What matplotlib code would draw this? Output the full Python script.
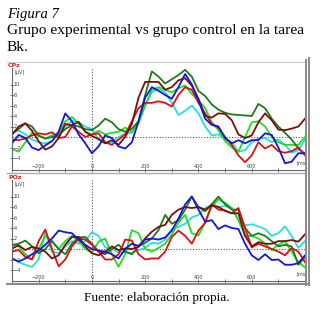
import numpy as np
import matplotlib.pyplot as plt
from matplotlib.lines import Line2D

W, H = 320, 311

# time axis (ms), one value every 25 ms
times = np.arange(-300, 801, 25)

# CPz (top panel), µV
cpz_cyan = [0.9, 1.2, 0.5, -0.5, -1.0, -1.2, -0.8, 0.5, 2.0, 3.0, 2.8, 2.0, 1.5, -0.5, -1.2,
            -1.0, 0.0, 0.6, 0.8, 2.5, 6.0, 8.5, 9.2, 8.5, 6.5, 4.2, 5.0, 6.0, 4.5, 2.0,
            0.3, 0.5, -0.5, -1.0, -2.8, -2.5, -1.0, -0.3, -0.2, -1.0, -0.5, -1.5, -3.0, -2.5, -0.5]
cpz_green = [-2.3, -2.8, -1.0, 0.8, 0.2, -0.3, 0.3, 0.8, 3.0, 3.8, 2.5, 1.0, 0.5, 1.2, 0.5,
             0.8, 1.0, 1.8, 1.0, 3.0, 6.0, 9.0, 9.5, 9.0, 8.5, 9.3, 9.8, 8.2, 7.0, 5.5,
             2.8, 1.3, -0.8, -2.0, -2.8, 0.0, 2.8, 3.0, 2.0, 0.0, -1.0, -1.5, -1.5, -1.5, 0.0]
cpz_dkgreen = [0.7, 1.5, 2.6, 2.0, 0.3, -0.3, 0.0, 0.3, 1.5, 2.3, 2.0, 1.5, 1.3, 2.2, 3.5,
               2.8, 1.5, 1.0, 1.6, 3.0, 8.0, 12.5, 11.5, 10.2, 11.0, 11.8, 12.8, 11.5, 8.8, 7.8,
               6.2, 5.2, 4.6, 4.3, 4.2, 4.1, 4.0, 6.3, 5.5, 3.5, 2.0, 0.8, -0.5, -2.2, -3.2]
cpz_red = [-0.5, -0.6, -0.3, 0.3, 0.7, 0.5, 0.9, -0.2, 0.0, 2.0, 1.0, 0.0, 0.5, 0.7, -1.0,
           -1.5, -0.5, 0.5, 3.0, 5.5, 6.5, 6.5, 6.8, 6.5, 5.8, 8.0, 9.5, 9.0, 6.5, 4.5,
           2.5, 1.8, 0.0, -1.5, -3.5, -4.8, -3.5, -1.0, -2.2, -1.5, -2.7, -3.0, -2.7, -2.0, -3.5]
cpz_dkred = [0.4, 2.0, 2.6, 1.2, -0.8, -2.4, -1.8, -0.2, 2.5, 2.2, 2.9, 1.0, 0.2, -0.4, -1.2,
             -0.6, -1.5, 0.0, 2.5, 7.5, 10.5, 10.5, 10.5, 9.0, 9.5, 10.8, 11.2, 9.8, 7.3, 4.0,
             3.7, 4.5, 4.4, 3.2, 0.5, -0.2, 0.3, 2.8, 4.5, 3.2, 1.4, 1.3, 1.6, 2.0, 3.5]
cpz_blue = [-1.2, 0.4, -0.2, -2.0, -2.5, -1.6, -0.8, 1.0, 4.5, 3.0, 0.5, -1.2, -3.1, -1.8, 0.3,
            -0.2, -1.8, -2.2, -1.0, 3.0, 7.5, 9.5, 8.8, 8.0, 7.3, 9.5, 12.0, 10.0, 7.0, 3.5,
            2.3, 2.0, -0.2, -1.2, -0.6, -1.2, -0.6, -0.6, 0.7, 0.4, -2.0, -5.0, -4.7, -3.1, -3.1]

# POz (bottom panel), µV
poz_cyan = [-1.8, -2.5, -3.0, -3.4, -2.0, 3.2, -0.5, -0.8, 0.5, 1.5, 1.0, 1.5, 3.2, 2.5, 0.3,
            0.0, -0.6, -0.6, -0.8, -0.2, 0.2, 1.2, 1.0, 1.8, 3.8, 4.2, 4.8, 6.0, 6.5, 7.8,
            8.5, 8.0, 8.2, 7.8, 5.5, 4.5, 4.7, 4.3, 3.8, 2.5, 3.0, 4.3, 2.5, 0.2, 1.5]
poz_green = [0.8, 0.5, -1.0, -2.0, 0.0, 2.5, 1.5, 0.0, 1.5, 2.5, 1.5, 0.0, -0.7, 1.4, 2.0,
             -1.0, -3.4, -1.0, 3.6, 3.0, 0.0, -0.5, 0.2, 1.0, 2.8, 5.0, 6.5, 3.0, 2.6, 5.0,
             8.0, 9.5, 8.8, 7.8, 5.5, 2.5, 2.5, 2.0, 1.0, -0.2, 0.8, 1.5, -0.5, -2.5, -3.5]
poz_dkgreen = [0.8, 1.0, 1.6, 0.5, -0.8, 0.0, 1.5, 0.0, -1.0, 1.0, 2.2, 2.3, 1.0, -0.5, -1.0,
               0.0, 0.8, -0.5, -1.0, 0.5, 1.2, 2.0, 3.6, 6.5, 4.8, 5.5, 7.5, 10.0, 8.0, 7.2,
               8.5, 10.0, 8.5, 7.5, 7.5, 4.0, 2.5, 3.0, 2.5, 1.5, 0.5, 0.8, 0.5, -3.0, -1.5]
poz_red = [-0.5, -0.2, -1.5, -2.0, 1.5, 3.7, 0.0, -3.3, -2.0, 0.5, 2.0, 1.8, 0.8, -0.5, -2.0,
           -2.0, -1.0, 1.8, 1.6, -1.0, -2.0, -1.8, -1.8, -0.5, 2.3, 3.5, 2.5, 1.0, 3.5, 5.0,
           8.5, 7.5, 7.3, 6.8, 7.8, 4.0, 0.3, 1.0, 0.5, 0.0, -0.5, -1.2, 0.2, -0.5, -2.5]
poz_dkred = [0.1, 0.7, -0.2, 0.4, 0.1, -0.5, -1.8, -1.2, 0.8, 2.3, 2.3, 0.5, -0.8, -1.2, -0.5,
             0.5, -0.2, 0.1, 0.0, 0.4, 2.0, 3.3, 4.2, 4.6, 6.5, 7.5, 8.0, 7.8, 8.0, 7.5,
             8.3, 8.0, 7.3, 6.8, 6.8, 2.5, 0.5, 1.3, 1.0, 1.0, 1.5, 1.5, 1.7, 1.4, 2.8]
poz_blue = [-1.8, -2.4, -1.8, -1.0, -0.3, 0.8, 2.0, 3.5, 3.2, 3.0, 1.8, 0.8, 0.0, -0.3, -0.5,
            -1.0, -1.8, 0.0, 1.0, 0.6, 1.8, 2.0, 1.8, 2.2, 3.5, 5.8, 8.5, 10.0, 7.5, 5.2,
            5.5, 3.8, 4.5, 4.0, 3.8, 1.0, -1.2, -2.1, -1.0, -2.1, -2.0, -3.0, -3.0, -2.7, -1.2]

colors = {'cyan': '#22e0e0', 'green': '#22dd22', 'dkgreen': '#1e7a1e',
          'red': '#e01010', 'dkred': '#7a0f0f', 'blue': '#1515d8'}

panels = [
    ('CPz', 68, 170, 137,
     [('cyan', cpz_cyan), ('green', cpz_green), ('dkgreen', cpz_dkgreen),
      ('red', cpz_red), ('dkred', cpz_dkred), ('blue', cpz_blue)]),
    ('POz', 180, 281, 249,
     [('cyan', poz_cyan), ('green', poz_green), ('dkgreen', poz_dkgreen),
      ('red', poz_red), ('dkred', poz_dkred), ('blue', poz_blue)]),
]

plt.rcParams['font.family'] = ['Liberation Serif', 'DejaVu Serif']
fig = plt.figure(figsize=(W / 100, H / 100), dpi=100)

# captions
fig.text(7 / W, 1 - 18 / H, 'Figura 7', fontsize=10.5, style='italic', va='baseline')
fig.text(7 / W, 1 - 34 / H, 'Grupo experimental vs grupo control en la tarea',
         fontsize=11.1, va='baseline')
fig.text(7 / W, 1 - 51 / H, 'Bk.', fontsize=11.1, va='baseline')
fig.text(157 / W, 1 - 301 / H, 'Fuente: elaboración propia.', fontsize=9.5,
         ha='center', va='baseline')

px_per_uv = 5.25
for name, top, bottom, zero, series in panels:
    ax = fig.add_axes([12 / W, 1 - bottom / H, 293 / W, (bottom - top) / H])
    ax.set_xlim(-300, 800)
    ax.set_ylim(-(bottom - zero) / px_per_uv, (zero - top) / px_per_uv)
    ax.axvline(0, color='#555555', lw=0.8, ls=(0, (1, 1.5)))
    ax.axhline(0, color='#555555', lw=0.8, ls=(0, (1, 1.5)))
    for key, vals in series:
        ax.plot(times, vals, color=colors[key], lw=1.3)
    for s in ['top', 'right']:
        ax.spines[s].set_visible(False)
    for s in ['left', 'bottom']:
        ax.spines[s].set_color('#666666')
        ax.spines[s].set_linewidth(0.8)
    ax.set_yticks([-4, -2, 2, 4, 6, 8, 10])
    ax.set_xticks([-200, 0, 200, 400, 600])
    ax.set_xticks(np.arange(-300, 801, 100), minor=True)
    ax.tick_params(axis='both', which='both', direction='inout', length=2.5, width=0.6,
                   color='#666666', labelsize=3.5, labelcolor='#444444')
    ax.tick_params(axis='x', pad=-5.5)
    ax.tick_params(axis='y', pad=-2.5)
    for lab in ax.get_yticklabels():
        lab.set_horizontalalignment('left')
        lab.set_family('DejaVu Sans')
    for lab in ax.get_xticklabels():
        lab.set_family('DejaVu Sans')
    ax.text(790, -(bottom - zero) / px_per_uv + 1.0, '[ms]', fontsize=3.5,
            color='#444444', ha='center', family='DejaVu Sans')
    ax.annotate('[µV]', xy=(0, 1), xycoords='axes fraction', xytext=(2, -4),
                textcoords='offset points', fontsize=3.5, color='#444444',
                family='DejaVu Sans')
    fig.text(8 / W, 1 - (top - 1) / H, name, color='#e02020', fontsize=4.5,
             weight='bold', family='DejaVu Sans', va='baseline')

# window frame lines
gray = '#8a8a8a'
fig.add_artist(Line2D([7 / W, 305 / W], [1 - 61.5 / H] * 2, color='#cccccc', lw=0.8))
fig.add_artist(Line2D([7 / W, 305 / W], [1 - 172.5 / H] * 2, color='#aaaaaa', lw=1.0))
fig.add_artist(Line2D([7 / W, 309 / W], [1 - 284 / H] * 2, color=gray, lw=1.5))
fig.add_artist(Line2D([305.5 / W] * 2, [1 - 60 / H, 1 - 285 / H], color=gray, lw=1.4))
fig.add_artist(Line2D([309 / W] * 2, [1 - 58 / H, 1 - 285 / H], color=gray, lw=1.4))

fig.savefig('out.png', dpi=100)
